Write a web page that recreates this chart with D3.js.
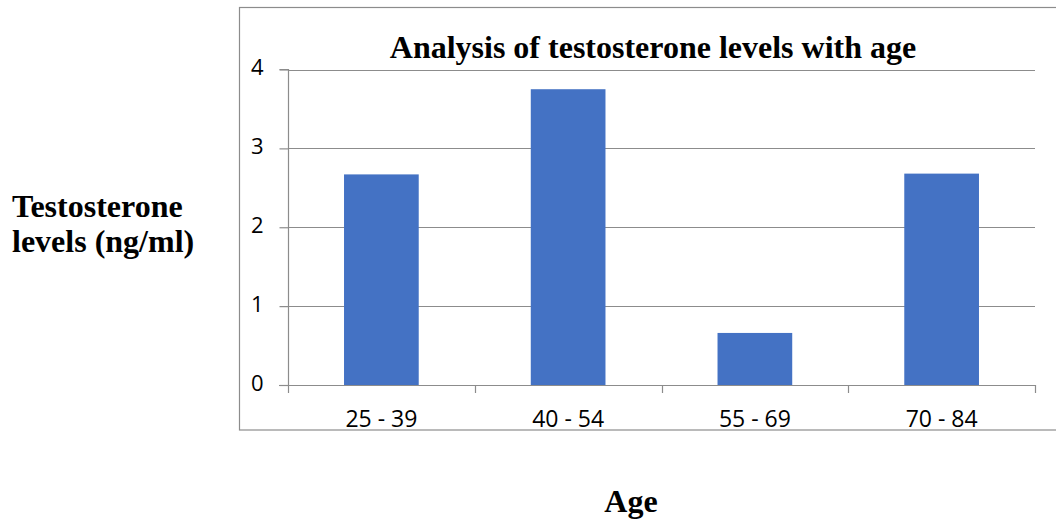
<!DOCTYPE html>
<html><head><meta charset="utf-8">
<script src="https://cdn.jsdelivr.net/npm/d3@7"></script>
<style>body{margin:0;background:#fff;}svg{display:block;}</style>
</head><body>
<svg id="c" width="1056" height="519"></svg>
<script>
const categories = ["25 - 39", "40 - 54", "55 - 69", "70 - 84"];
const values = [2.67, 3.75, 0.66, 2.68];
const yTicks = [0, 1, 2, 3, 4];
const title = "Analysis of testosterone levels with age";
const yLabelLines = ["Testosterone", "levels (ng/ml)"];
const xLabel = "Age";

const svg = d3.select("#c");
const pLeft = 288, pRight = 1035, pTop = 69.5, pBottom = 385;
const x = d3.scaleBand().domain(categories).range([pLeft, pRight]).paddingInner(0.6).paddingOuter(0.3);
const y = d3.scaleLinear().domain([0, 4]).range([pBottom, pTop]);
const grid = "#8c8c8c";

// outer chart frame
svg.append("rect").attr("x", 239.5).attr("y", 7.5).attr("width", 830).attr("height", 422.5)
  .attr("fill", "none").attr("stroke", "#8c8c8c").attr("stroke-width", 1.2);

// gridlines
svg.append("g").selectAll("line").data(yTicks.filter(d => d > 0)).join("line")
  .attr("x1", pLeft).attr("x2", pRight)
  .attr("y1", d => Math.round(y(d)) + 0.5).attr("y2", d => Math.round(y(d)) + 0.5)
  .attr("stroke", grid).attr("stroke-width", 1.2);

// y axis
const ya = svg.append("g").attr("transform", `translate(${pLeft + 0.5},0)`)
  .call(d3.axisLeft(y).tickValues(yTicks).tickSize(9).tickPadding(16).tickFormat(d3.format("d")));
ya.select(".domain").attr("stroke", grid).attr("stroke-width", 1.2).attr("d", `M-9,${pTop}H0V${pBottom}`);
ya.selectAll(".tick line").attr("stroke", grid).attr("stroke-width", 1.2);
ya.selectAll(".tick text").attr("font-family", "Open Sans, sans-serif").attr("font-size", 22)
  .attr("fill", "#000").attr("dy", "0.24em");

// bars
svg.append("g").selectAll("rect").data(values).join("rect")
  .attr("x", (d, i) => x(categories[i])).attr("width", x.bandwidth())
  .attr("y", d => y(d)).attr("height", d => y(0) - y(d))
  .attr("fill", "#4472C4");

// x axis
const bounds = d3.range(categories.length + 1).map(i => pLeft + i * (pRight - pLeft) / categories.length);
svg.append("line").attr("x1", pLeft - 9).attr("x2", pRight).attr("y1", pBottom + 0.5).attr("y2", pBottom + 0.5)
  .attr("stroke", grid).attr("stroke-width", 1.2);
svg.append("g").selectAll("line").data(bounds).join("line")
  .attr("x1", d => Math.round(d) + 0.5).attr("x2", d => Math.round(d) + 0.5)
  .attr("y1", pBottom).attr("y2", pBottom + 8).attr("stroke", grid).attr("stroke-width", 1.2);
svg.append("g").selectAll("text").data(categories).join("text")
  .attr("x", d => x(d) + x.bandwidth() / 2).attr("y", 427)
  .attr("text-anchor", "middle").attr("font-family", "Open Sans, sans-serif").attr("font-size", 23)
  .text(d => d);

// title
svg.append("text").attr("x", 653).attr("y", 58).attr("text-anchor", "middle")
  .attr("font-family", "Liberation Serif, serif").attr("font-weight", "bold").attr("font-size", 32)
  .text(title);

// y label
svg.append("g").selectAll("text").data(yLabelLines).join("text")
  .attr("x", 12).attr("y", (d, i) => 217 + i * 35)
  .attr("font-family", "Liberation Serif, serif").attr("font-weight", "bold").attr("font-size", 32)
  .text(d => d);

// x label
svg.append("text").attr("x", 631).attr("y", 512).attr("text-anchor", "middle")
  .attr("font-family", "Liberation Serif, serif").attr("font-weight", "bold").attr("font-size", 32)
  .text(xLabel);
</script>
</body></html>
